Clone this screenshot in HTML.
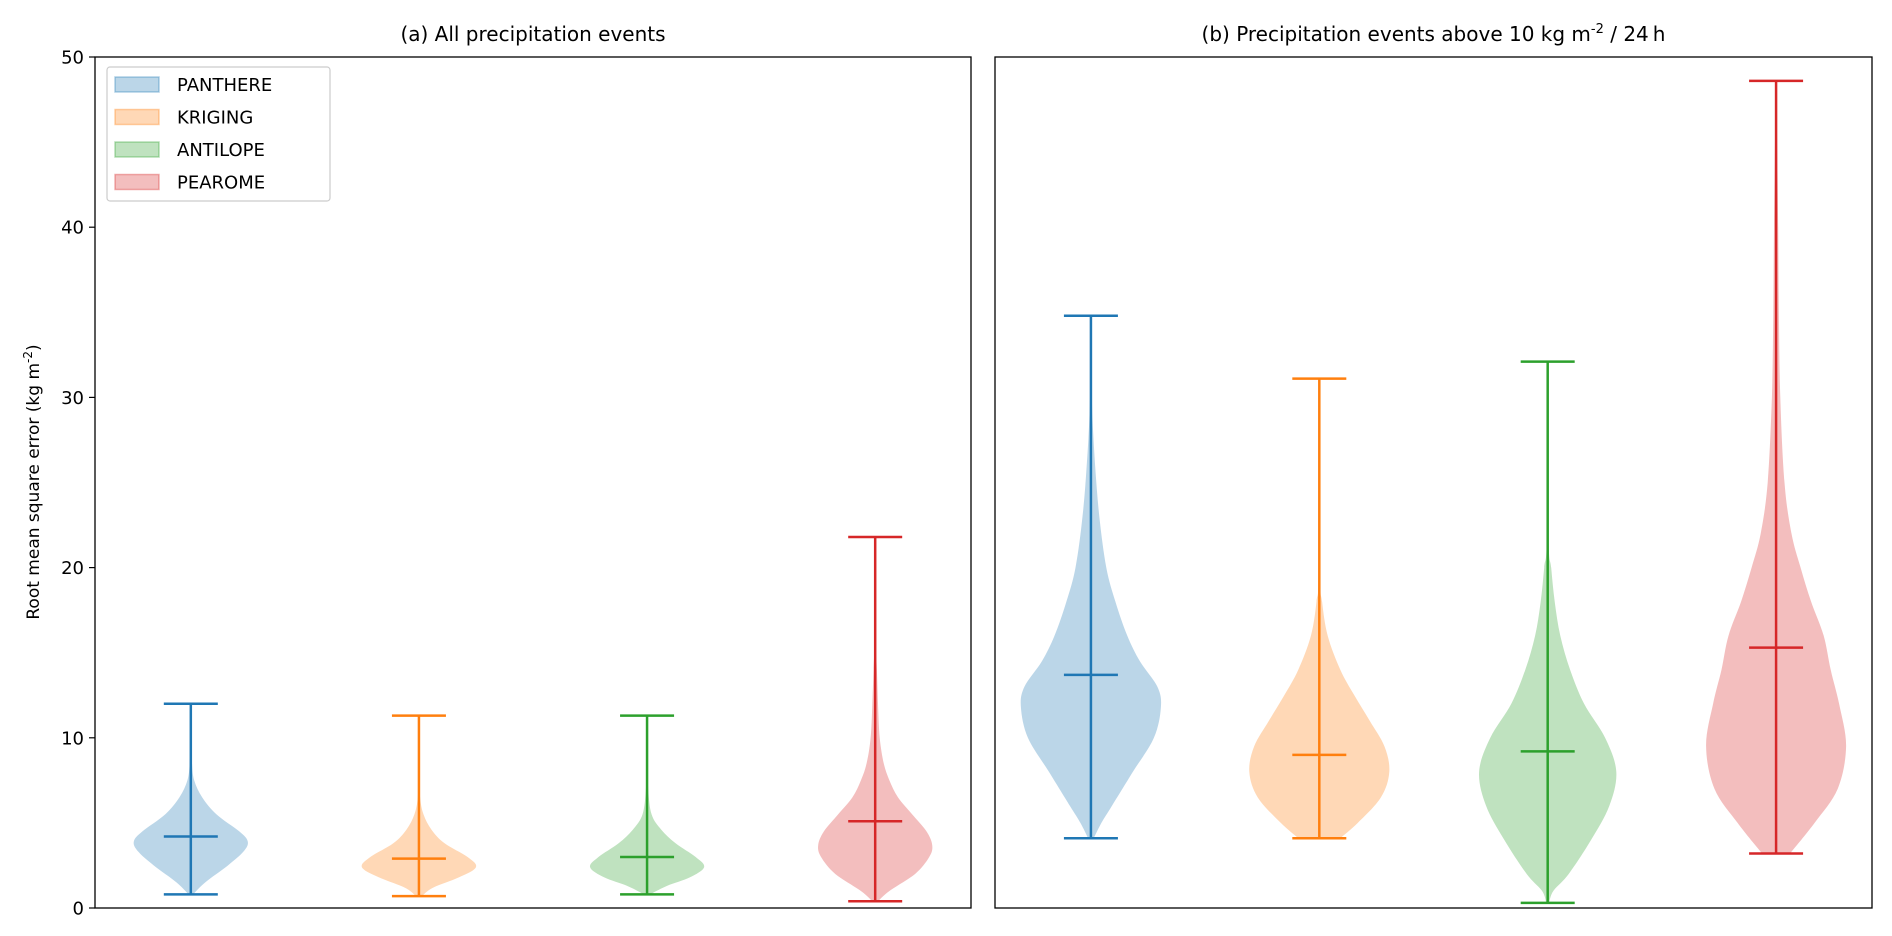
<!DOCTYPE html>
<html><head><meta charset="utf-8"><style>
body{margin:0;background:#fff;}
svg{display:block;font-family:"DejaVu Sans","Liberation Sans",sans-serif;}
</style></head><body>
<svg id="chart" width="1892" height="936" viewBox="0 0 1892 936"></svg>
<script>
const seriesNames = ["PANTHERE","KRIGING","ANTILOPE","PEAROME"];
const colors = ["#1f77b4","#ff7f0e","#2ca02c","#d62728"];
const yTicks = [0,10,20,30,40,50];
const panelTitles = ["(a) All precipitation events","(b) Precipitation events above 10 kg m"];
const minsA = [0.8,0.7,0.8,0.4];
const maxsA = [12.0,11.3,11.3,21.8];
const meansA = [4.2,2.9,3.0,5.1];
const minsB = [4.1,4.1,0.3,3.2];
const maxsB = [34.8,31.1,32.1,48.6];
const meansB = [13.7,9.0,9.2,15.3];
const densA = [
 [[0.8,0.04],[1.5,0.25],[2.5,0.65],[3.3,0.92],[3.9,1.0],[4.5,0.85],[5.5,0.45],[6.5,0.2],[7.5,0.06],[8.5,0.02],[10,0.005],[12,0]],
 [[0.7,0.05],[1.2,0.25],[1.8,0.7],[2.4,1.0],[3.0,0.85],[3.8,0.45],[4.6,0.22],[5.5,0.08],[6.5,0.02],[8,0.005],[11.3,0]],
 [[0.8,0.05],[1.3,0.35],[1.8,0.75],[2.4,1.0],[3.0,0.85],[3.8,0.5],[4.6,0.25],[5.5,0.08],[7,0.02],[9,0.005],[11.3,0]],
 [[0.4,0.05],[1.0,0.25],[2.0,0.7],[3.0,0.95],[3.7,1.0],[4.5,0.9],[5.5,0.65],[6.5,0.4],[7.5,0.25],[8.5,0.15],[10,0.08],[12,0.05],[14,0.03],[16,0.01],[21.8,0]]
];
const densB = [
 [[4.1,0.04],[5,0.15],[6,0.3],[8,0.6],[10,0.9],[11.8,1.0],[13,0.95],[14.5,0.7],[16,0.52],[18,0.35],[20,0.22],[23,0.12],[26,0.06],[29,0.02],[32,0.005],[34.8,0]],
 [[4.1,0.3],[5,0.55],[6.5,0.88],[8,1.0],[9.5,0.93],[11,0.72],[12.5,0.5],[14,0.3],[16,0.12],[18,0.04],[20,0.01],[31.1,0]],
 [[0.3,0.02],[1,0.08],[2,0.3],[4,0.62],[6,0.88],[8,0.98],[10,0.82],[12,0.52],[14,0.32],[16,0.18],[18,0.1],[20,0.05],[22,0.01],[32.1,0]],
 [[3.2,0.2],[5,0.55],[7,0.88],[9.5,1.0],[12,0.9],[14,0.78],[16,0.68],[18,0.5],[20,0.35],[22,0.22],[25,0.12],[30,0.06],[35,0.04],[40,0.03],[45,0.015],[48.6,0]]
];

const NS="http://www.w3.org/2000/svg";
const svg=document.getElementById('chart');
function mk(tag,attrs,parent){const e=document.createElementNS(NS,tag);for(const k in attrs)e.setAttribute(k,attrs[k]);(parent||svg).appendChild(e);return e;}
const yTop=57,yBottom=908;
const yScale=v=>yBottom-(v/50)*(yBottom-yTop);
const panels=[{x0:95,x1:971,mins:minsA,maxs:maxsA,means:meansA,dens:densA,hw:57},
              {x0:995,x1:1872,mins:minsB,maxs:maxsB,means:meansB,dens:densB,hw:70}];
function smooth(pts){
  let d='';
  for(let i=0;i<pts.length-1;i++){
    const p0=pts[Math.max(0,i-1)],p1=pts[i],p2=pts[i+1],p3=pts[Math.min(pts.length-1,i+2)];
    const c1=[p1[0]+(p2[0]-p0[0])/6,p1[1]+(p2[1]-p0[1])/6];
    const c2=[p2[0]-(p3[0]-p1[0])/6,p2[1]-(p3[1]-p1[1])/6];
    d+=' C'+c1[0].toFixed(1)+','+c1[1].toFixed(1)+' '+c2[0].toFixed(1)+','+c2[1].toFixed(1)+' '+p2[0].toFixed(1)+','+p2[1].toFixed(1);
  }
  return d;
}

panels.forEach((p,pi)=>{
  const xScale=i=>p.x0+(p.x1-p.x0)*(i+0.42)/3.84;
  const g=mk('g',{});
  
  
  p.dens.forEach((d,i)=>{
    const cx=xScale(i);
    const right=d.map(q=>[cx+q[1]*p.hw,yScale(q[0])]);
    const left=d.map(q=>[cx-q[1]*p.hw,yScale(q[0])]).reverse();
    const path='M'+right[0][0].toFixed(1)+','+right[0][1].toFixed(1)+smooth(right)+' L'+left[0][0].toFixed(1)+','+left[0][1].toFixed(1)+smooth(left)+' Z';
    const poly=mk('path',{d:path,fill:colors[i],'fill-opacity':0.3,stroke:'none'},g);
    
    
    const ln=mk('line',{x1:cx,x2:cx,y1:yScale(p.mins[i]),y2:yScale(p.maxs[i]),stroke:colors[i],'stroke-width':2.5},g);
    
    
    [p.mins[i],p.maxs[i],p.means[i]].forEach((v,k)=>{
      const c=mk('line',{x1:cx-27,x2:cx+27,y1:yScale(v),y2:yScale(v),stroke:colors[i],'stroke-width':2.5},g);
      
      
    });
  });
  const fr=mk('rect',{x:p.x0,y:yTop,width:p.x1-p.x0,height:yBottom-yTop,fill:'none',stroke:'#000','stroke-width':1.3},g);
  
  
  const t=mk('text',{x:(p.x0+p.x1)/2,y:41,'text-anchor':'middle','font-size':20},g);
  
  
  t.textContent=panelTitles[pi];
  if(pi===1){
    const s=mk('tspan',{dy:-8,'font-size':13},t);s.textContent='-2';
    const s2=mk('tspan',{dy:8},t);s2.textContent=' / 24\u2009h';
  }
});
yTicks.forEach(v=>{
  const tk=mk('line',{x1:89,x2:95,y1:yScale(v),y2:yScale(v),stroke:'#000','stroke-width':1.2});
  
  
  const tl=mk('text',{x:84,y:yScale(v)+6.5,'text-anchor':'end','font-size':18});
  
  
  tl.textContent=v;
});
const yl=mk('text',{x:0,y:0,'text-anchor':'middle','font-size':17,transform:'translate(39,482) rotate(-90)'});


yl.textContent='Root mean square error (kg m';
const ys=mk('tspan',{dy:-7,'font-size':12},yl);ys.textContent='-2';
const ys2=mk('tspan',{dy:7},yl);ys2.textContent=')';
const lg=mk('g',{});


const lb=mk('rect',{x:107,y:67,width:223,height:134,rx:3,fill:'#fff',stroke:'#ccc','stroke-width':1.2},lg);


seriesNames.forEach((n,i)=>{
  const y=84+i*32.5;
  const r=mk('rect',{x:115,y:y-7,width:44,height:15,fill:colors[i],'fill-opacity':0.3,stroke:colors[i],'stroke-opacity':0.35,'stroke-width':1.5},lg);
  
  
  const t=mk('text',{x:177,y:y+7,'font-size':18},lg);
  
  
  t.textContent=n;
});
</script>
</body></html>
